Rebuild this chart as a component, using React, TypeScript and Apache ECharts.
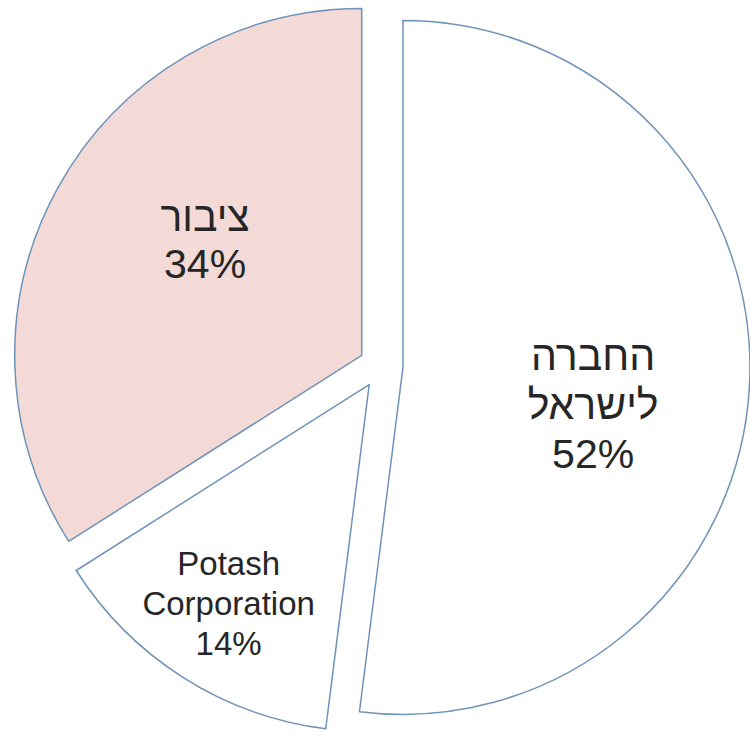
import React, { useEffect, useRef } from "react";
import * as echarts from "echarts";

const names = ["החברה\nלישראל", "Potash\nCorporation", "ציבור"];
const values = [52, 14, 34];
const fills = ["#FFFFFF", "#FFFFFF", "#F3DAD6"];
const fontSizes = [41, 33, 41];
const lineHeights = [49, 40, 47];
const labelShift = [
  [14, 27],
  [-46, 70],
  [-2, -30],
];

export default function App() {
  const ref = useRef<HTMLDivElement>(null);
  useEffect(() => {
    const chart = echarts.init(ref.current!, undefined, { renderer: "svg" });
    const border = { borderColor: "#6F93B8", borderWidth: 1.5 };
    chart.setOption({
      animation: false,
      backgroundColor: "#FFFFFF",
      series: [
        {
          type: "pie",
          center: [381, 366],
          radius: 347,
          startAngle: 90,
          clockwise: true,
          selectedMode: "multiple",
          selectedOffset: 22,
          emphasis: { disabled: true },
          avoidLabelOverlap: false,
          labelLine: { show: false },
          label: {
            show: true,
            position: "inside",
            color: "#262626",
            fontFamily: "'Liberation Sans', Arial, sans-serif",
            formatter: (p: any) => `${p.name}\n${p.value}%`,
          },
          labelLayout: (p: any) => ({
            dx: labelShift[p.dataIndex][0],
            dy: labelShift[p.dataIndex][1],
          }),
          data: names.map((n, i) => ({
            name: n,
            value: values[i],
            selected: true,
            itemStyle: { color: fills[i], ...border },
            select: { itemStyle: { color: fills[i], ...border } },
            label: { fontSize: fontSizes[i], lineHeight: lineHeights[i] },
          })),
        },
      ],
    });
    return () => chart.dispose();
  }, []);
  return (
    <div
      ref={ref}
      style={{ position: "fixed", left: 0, top: 0, width: 750, height: 732 }}
    />
  );
}
